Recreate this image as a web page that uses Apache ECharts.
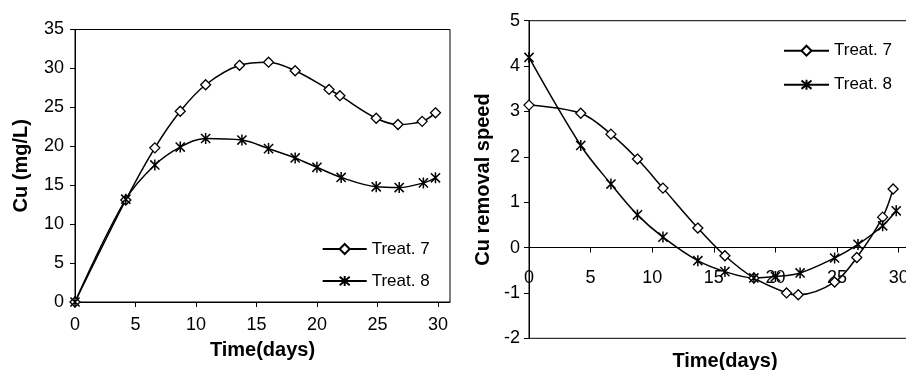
<!DOCTYPE html>
<html>
<head>
<meta charset="utf-8">
<script src="https://cdn.jsdelivr.net/npm/echarts@6/dist/echarts.min.js"></script>
<style>
html,body{margin:0;padding:0;background:#fff;}
#c{width:906px;height:370px;}
</style>
</head>
<body>
<div id="c"></div>
<script>
// ---- data (left: Cu concentration) ----
const seriesNames = ['Treat. 7', 'Treat. 8'];
const cuDays7 = [0, 4.2, 6.6, 8.7, 10.8, 13.6, 16.0, 18.2, 21.0, 21.9, 24.9, 26.7, 28.7, 29.8];
const cuTreat7 = [0, 13.1, 19.8, 24.5, 27.9, 30.4, 30.8, 29.7, 27.3, 26.5, 23.6, 22.8, 23.2, 24.3];
const cuDays8 = [0, 4.2, 6.6, 8.7, 10.8, 13.8, 16.0, 18.2, 20.0, 22.0, 24.9, 26.8, 28.8, 29.8];
const cuTreat8 = [0, 13.2, 17.6, 19.9, 21.0, 20.8, 19.7, 18.5, 17.3, 16.0, 14.8, 14.7, 15.3, 15.95];

// ---- data (right: Cu removal speed) ----
const spDays7 = [0, 4.2, 6.65, 8.8, 10.87, 13.7, 15.9, 18.25, 20.9, 21.85, 24.8, 26.6, 28.7, 29.55];
const spTreat7 = [3.14, 2.96, 2.50, 1.95, 1.31, 0.43, -0.18, -0.67, -1.00, -1.04, -0.76, -0.22, 0.67, 1.29];
const spDays8 = [0, 4.2, 6.65, 8.8, 10.87, 13.7, 15.9, 18.25, 20.0, 22.0, 24.8, 26.7, 28.7, 29.8];
const spTreat8 = [4.19, 2.25, 1.40, 0.72, 0.23, -0.29, -0.53, -0.67, -0.64, -0.56, -0.23, 0.07, 0.48, 0.81];

// ---- tick labels ----
const dayTicks = [0, 5, 10, 15, 20, 25, 30];
const cuTicks = [0, 5, 10, 15, 20, 25, 30, 35];
const speedTicks = [-2, -1, 0, 1, 2, 3, 4, 5];

// ---- titles ----
const xTitle = 'Time(days)';
const yTitleLeft = 'Cu (mg/L)';
const yTitleRight = 'Cu removal speed';

const FONT = '"Liberation Sans", Arial, sans-serif';
const pairs = (xs, ys) => xs.map((x, i) => [x, ys[i]]);
const starPath = 'path://M0,0 L10,10 M10,0 L0,10 M5,-1 L5,11';

function makeSeries(name, data, xi, yi, isStar) {
  return {
    name: name, type: 'line', xAxisIndex: xi, yAxisIndex: yi,
    data: data, smooth: 0.35,
    symbol: isStar ? starPath : 'diamond',
    symbolSize: isStar ? 11 : 10,
    symbolKeepAspect: true,
    showAllSymbol: true,
    lineStyle: { color: '#000', width: 1.5 },
    itemStyle: isStar
      ? { color: '#000', borderColor: '#000', borderWidth: 1.5 }
      : { color: '#fff', borderColor: '#000', borderWidth: 1.3 },
    emphasis: { disabled: true },
    animation: false
  };
}

const tickLabel = { color: '#000', fontSize: 18, fontFamily: FONT };
const nameStyle = { color: '#000', fontSize: 20, fontWeight: 'bold', fontFamily: FONT };
const axLine = { show: true, lineStyle: { color: '#000', width: 1 } };
const axTick = { show: true, length: 5, lineStyle: { color: '#000', width: 1 } };

// right panel geometry: y from -2 (bottom) to 5 (top); x-axis drawn at y = 0
const rTop = 20.7, rHeight = 317.6, rMin = -2, rMax = 5;
const zeroOffset = -rHeight * (0 - rMin) / (rMax - rMin);

const chart = echarts.init(document.getElementById('c'), null, { renderer: 'canvas' });
chart.setOption({
  animation: false,
  backgroundColor: '#fff',
  grid: [
    { left: 75, top: 29.5, width: 375, height: 272.5, show: true, borderColor: '#000', borderWidth: 1, backgroundColor: 'transparent', containLabel: false, outerBoundsMode: 'none' },
    { left: 529, top: rTop, width: 382, height: rHeight, show: true, borderColor: '#000', borderWidth: 1, backgroundColor: 'transparent', containLabel: false, outerBoundsMode: 'none' }
  ],
  xAxis: [
    { type: 'value', gridIndex: 0, min: 0, max: 31, interval: 5,
      name: xTitle, nameLocation: 'middle', nameGap: 38, nameTextStyle: nameStyle,
      axisLine: axLine, axisTick: Object.assign({ customValues: dayTicks }, axTick),
      axisLabel: Object.assign({ customValues: dayTicks, margin: 14 }, tickLabel),
      splitLine: { show: false } },
    { type: 'value', gridIndex: 1, min: 0, max: 31, interval: 5, position: 'bottom', offset: zeroOffset,
      name: xTitle, nameLocation: 'middle', nameGap: 104, nameTextStyle: Object.assign({ padding: [0, 0, 0, 10] }, nameStyle),
      axisLine: Object.assign({ onZero: false }, axLine), axisTick: Object.assign({ customValues: dayTicks }, axTick),
      axisLabel: Object.assign({ customValues: dayTicks, margin: 21 }, tickLabel),
      splitLine: { show: false } }
  ],
  yAxis: [
    { type: 'value', gridIndex: 0, min: 0, max: 35, interval: 5,
      name: yTitleLeft, nameLocation: 'middle', nameGap: 44, nameTextStyle: nameStyle,
      axisLine: axLine, axisTick: Object.assign({ customValues: cuTicks }, axTick),
      axisLabel: Object.assign({ customValues: cuTicks, margin: 11 }, tickLabel),
      splitLine: { show: false } },
    { type: 'value', gridIndex: 1, min: rMin, max: rMax, interval: 1,
      name: yTitleRight, nameLocation: 'middle', nameGap: 36, nameTextStyle: nameStyle,
      axisLine: axLine, axisTick: Object.assign({ customValues: speedTicks }, axTick),
      axisLabel: Object.assign({ customValues: speedTicks, margin: 9 }, tickLabel),
      splitLine: { show: false } }
  ],
  legend: [
    { orient: 'vertical', left: 316.7, top: 235, itemWidth: 44, itemHeight: 12.5, itemGap: 14,
      data: seriesNames, selectedMode: false,
      textStyle: { color: '#000', fontSize: 17, lineHeight: 18, fontFamily: FONT } },
    { orient: 'vertical', left: 778, top: 36.7, itemWidth: 45, itemHeight: 12.5, itemGap: 16,
      data: seriesNames, selectedMode: false,
      textStyle: { color: '#000', fontSize: 17, lineHeight: 18, fontFamily: FONT } }
  ],
  series: [
    makeSeries(seriesNames[0], pairs(cuDays7, cuTreat7), 0, 0, false),
    makeSeries(seriesNames[1], pairs(cuDays8, cuTreat8), 0, 0, true),
    makeSeries(seriesNames[0], pairs(spDays7, spTreat7), 1, 1, false),
    makeSeries(seriesNames[1], pairs(spDays8, spTreat8), 1, 1, true)
  ]
});
</script>
</body>
</html>
